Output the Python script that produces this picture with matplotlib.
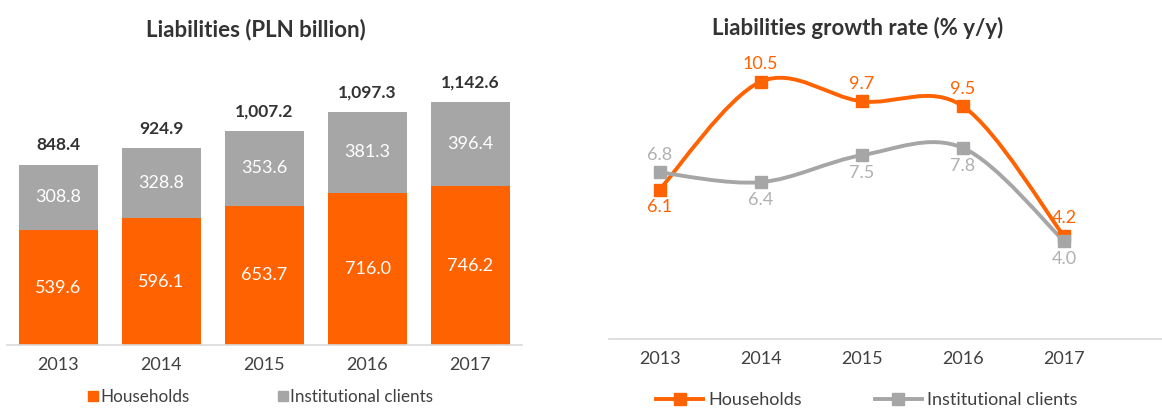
import matplotlib
matplotlib.use("Agg")
import matplotlib.pyplot as plt
import numpy as np
from matplotlib.path import Path
import matplotlib.patches as patches
from matplotlib.lines import Line2D

plt.rcParams['font.family'] = ['Lato', 'DejaVu Sans']

years = ['2013', '2014', '2015', '2016', '2017']
households = [539.6, 596.1, 653.7, 716.0, 746.2]
institutional = [308.8, 328.8, 353.6, 381.3, 396.4]
totals = ['848.4', '924.9', '1,007.2', '1,097.3', '1,142.6']

growth_households = [6.1, 10.5, 9.7, 9.5, 4.2]
growth_institutional = [6.8, 6.4, 7.5, 7.8, 4.0]

ORANGE = '#FF6200'
GREY = '#A6A6A6'
TXT = '#404040'
W, H = 1162, 409


def smooth_path(xs, ys):
    # excel-like smoothed line: catmull-rom as cubic bezier
    pts = np.column_stack([xs, ys]).astype(float)
    n = len(pts)
    verts = [pts[0]]
    codes = [Path.MOVETO]
    for i in range(n - 1):
        p0 = pts[max(i - 1, 0)]
        p1 = pts[i]
        p2 = pts[i + 1]
        p3 = pts[min(i + 2, n - 1)]
        c1 = p1 + (p2 - p0) / 6.0
        c2 = p2 - (p3 - p1) / 6.0
        verts += [c1, c2, p2]
        codes += [Path.CURVE4] * 3
    return Path(verts, codes)


fig = plt.figure(figsize=(W / 100, H / 100), dpi=100)

# ---- left: stacked bars
ax1 = fig.add_axes([7 / W, 64 / H, 515 / W, 276.5 / H])
x = np.arange(len(years))
ax1.bar(x, households, width=0.76, color=ORANGE)
ax1.bar(x, institutional, width=0.76, bottom=households, color=GREY)
for i in range(len(years)):
    ax1.text(x[i], households[i] / 2, f'{households[i]:.1f}', ha='center', va='center',
             color='white', fontsize=13)
    ax1.text(x[i], households[i] + institutional[i] / 2, f'{institutional[i]:.1f}',
             ha='center', va='center', color='white', fontsize=13)
    ax1.annotate(totals[i], (x[i], households[i] + institutional[i]), xytext=(0, 8),
                 textcoords='offset points', ha='center', va='bottom',
                 fontsize=12.5, fontweight='bold', color='#333333')
ax1.set_xlim(-0.5, 4.5)
ax1.set_ylim(0, 1300)
ax1.set_xticks(x)
ax1.set_xticklabels(years)

# ---- right: growth rate lines
ax2 = fig.add_axes([609 / W, 70 / H, 553 / W, 281.75 / H])
ax2.add_patch(patches.PathPatch(smooth_path(x, growth_households), facecolor='none',
                                edgecolor=ORANGE, lw=2.8, zorder=2))
ax2.add_patch(patches.PathPatch(smooth_path(x, growth_institutional), facecolor='none',
                                edgecolor=GREY, lw=2.8, zorder=3))
ax2.plot(x, growth_households, ls='none', marker='s', ms=8, color=ORANGE, zorder=4)
ax2.plot(x, growth_institutional, ls='none', marker='s', ms=8, color=GREY, zorder=5)
h_pos = ['below', 'above', 'above', 'above', 'above']
i_pos = ['above', 'below', 'below', 'below', 'below']
for i in range(len(years)):
    off = 7 if h_pos[i] == 'above' else -7
    ax2.annotate(f'{growth_households[i]:.1f}', (x[i], growth_households[i]),
                 xytext=(0, off), textcoords='offset points', ha='center',
                 va='bottom' if off > 0 else 'top', color=ORANGE, fontsize=13)
    off = 7 if i_pos[i] == 'above' else -7
    ax2.annotate(f'{growth_institutional[i]:.1f}', (x[i], growth_institutional[i]),
                 xytext=(0, off), textcoords='offset points', ha='center',
                 va='bottom' if off > 0 else 'top', color='#B0B0B0', fontsize=13)
ax2.set_xlim(-0.5, 4.97)
ax2.set_ylim(0, 11.5)
ax2.set_xticks(x)
ax2.set_xticklabels(years)

for ax in (ax1, ax2):
    for s in ('top', 'left', 'right'):
        ax.spines[s].set_visible(False)
    ax.spines['bottom'].set_color('#D9D9D9')
    ax.spines['bottom'].set_linewidth(1.2)
    ax.set_yticks([])
    ax.tick_params(axis='x', length=0, pad=9, labelsize=13, labelcolor=TXT)
    ax.patch.set_alpha(0)

fig.text(256 / W, 1 - 30 / H, 'Liabilities (PLN billion)', ha='center', va='center',
         fontsize=16, fontweight='bold', color='#333333')
fig.text(858 / W, 1 - 28 / H, 'Liabilities growth rate (% y/y)', ha='center', va='center',
         fontsize=16, fontweight='bold', color='#333333')

# legends
sq_h = Line2D([], [], ls='none', marker='s', ms=7, color=ORANGE)
sq_i = Line2D([], [], ls='none', marker='s', ms=7, color=GREY)
fig.legend([sq_h, sq_i], ['Households', 'Institutional clients'], loc='center',
           bbox_to_anchor=(261 / W, 12 / H), ncol=2, frameon=False, fontsize=12.3,
           handlelength=0.5, handletextpad=0.2, columnspacing=5.2, labelcolor=TXT,
           borderpad=0)
ln_h = Line2D([], [], lw=2.8, marker='s', ms=8, color=ORANGE)
ln_i = Line2D([], [], lw=2.8, marker='s', ms=8, color=GREY)
fig.legend([ln_h, ln_i], ['Households', 'Institutional clients'], loc='center',
           bbox_to_anchor=(867 / W, 9 / H), ncol=2, frameon=False, fontsize=13,
           handlelength=2.6, handletextpad=0.3, columnspacing=4.0, labelcolor=TXT,
           borderpad=0)

fig.savefig('out.png', dpi=100)
